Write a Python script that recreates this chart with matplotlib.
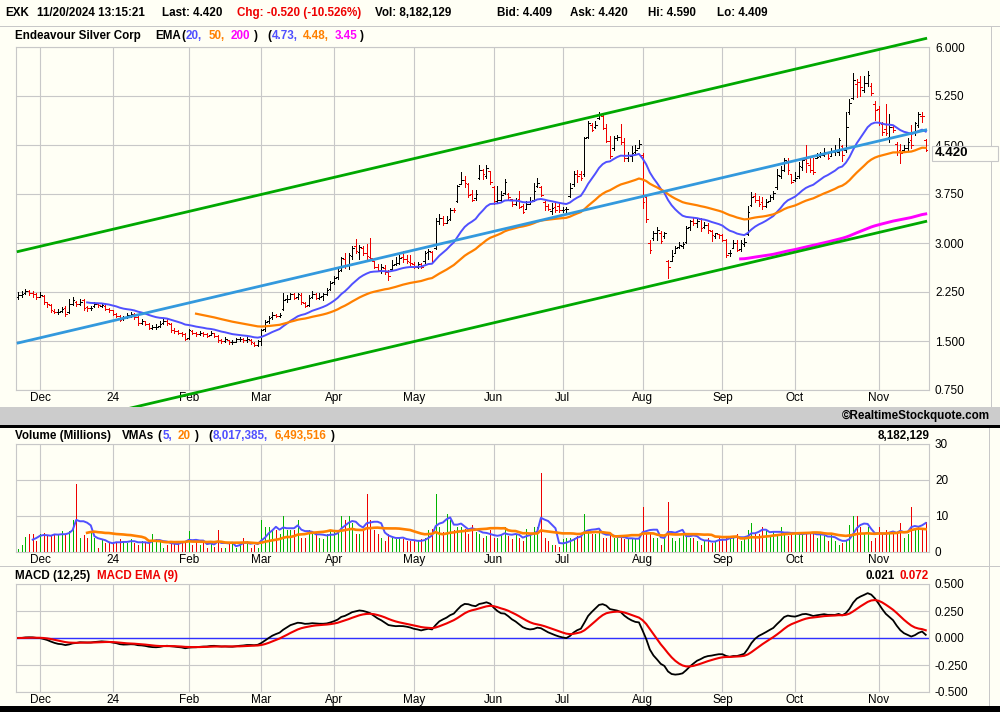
import numpy as np
import pandas as pd
import matplotlib
matplotlib.use("Agg")
import matplotlib.pyplot as plt
from matplotlib.patches import Rectangle
from matplotlib.transforms import Bbox, TransformedBbox

plt.rcParams['font.family'] = ['Liberation Sans', 'DejaVu Sans']

# ------------------------------------------------------------------
# data (EXK daily bars, 2023-11-22 .. 2024-11-20)
# ------------------------------------------------------------------
first_day = "2023-11-22"
last_day = "2024-11-20"
holidays = ["2023-11-23", "2023-12-25", "2024-01-01", "2024-01-15", "2024-02-19",
            "2024-03-29", "2024-05-27", "2024-06-19", "2024-07-04", "2024-09-02"]

closes = [
    2.21, 2.22, 2.27, 2.24, 2.22, 2.17, 2.20, 2.10, 2.06, 1.97, 1.95, 1.95, 1.99, 1.91, 2.06, 2.12, 2.06, 2.10, 2.01, 2.00, 2.01, 2.06, 2.05, 2.05, 1.99, 1.97,
    1.92, 1.89, 1.82, 1.86, 1.90, 1.91, 1.86, 1.77, 1.81, 1.76, 1.70, 1.71, 1.72, 1.76, 1.81, 1.77, 1.67, 1.66, 1.62, 1.61, 1.53,
    1.67, 1.63, 1.60, 1.63, 1.61, 1.58, 1.63, 1.58, 1.51, 1.50, 1.53, 1.48, 1.48, 1.53, 1.53, 1.51, 1.53, 1.48, 1.44, 1.50,
    1.67, 1.79, 1.85, 1.90, 1.88, 1.90, 2.13, 2.14, 2.22, 2.16, 2.22, 2.09, 2.04, 2.16, 2.22, 2.16, 2.18, 2.22, 2.28, 2.39,
    2.47, 2.57, 2.77, 2.67, 2.82, 2.92, 2.87, 2.94, 2.84, 2.80, 2.77, 2.63, 2.59, 2.63, 2.55, 2.50, 2.67, 2.69, 2.77, 2.76, 2.72, 2.69,
    2.63, 2.68, 2.64, 2.85, 2.87, 2.73, 3.33, 3.38, 3.30, 3.35, 3.51, 3.50, 3.87, 3.97, 3.92, 3.74, 3.66, 3.75, 4.12, 4.05, 4.15, 3.94,
    3.64, 3.66, 3.74, 3.94, 3.70, 3.60, 3.66, 3.55, 3.48, 3.59, 3.65, 3.79, 3.92, 3.74, 3.56, 3.52, 3.54, 3.51, 3.50,
    3.51, 3.52, 3.84, 4.05, 4.02, 3.99, 4.61, 4.84, 4.73, 4.81, 4.96, 4.76, 4.56, 4.33, 4.61, 4.62, 4.55, 4.30, 4.35, 4.38, 4.42, 4.52,
    3.62, 3.36, 2.90, 3.15, 3.20, 3.03, 3.15, 2.64, 2.80, 2.92, 2.97, 2.99, 3.23, 3.33, 3.31, 3.33, 3.23, 3.28, 3.20, 3.13, 3.15, 3.13,
    3.05, 2.82, 2.85, 3.00, 2.90, 3.00, 3.02, 3.48, 3.71, 3.66, 3.60, 3.56, 3.63, 3.71, 3.76, 4.04, 4.12, 4.27, 4.12, 3.94,
    3.99, 4.18, 4.27, 4.22, 4.12, 4.09, 4.32, 4.35, 4.40, 4.30, 4.40, 4.42, 4.58, 4.35, 4.78, 5.14, 5.49, 5.47, 5.39, 5.45, 5.57, 5.29, 5.04,
    4.83, 4.70, 4.68, 4.78, 4.73, 4.40, 4.38, 4.46, 4.55, 4.50, 4.83, 4.98, 4.94, 4.42,
]
highs = [
    2.25, 2.26, 2.30, 2.28, 2.26, 2.24, 2.25, 2.20, 2.10, 2.06, 1.99, 1.99, 2.02, 2.03, 2.14, 2.18, 2.11, 2.14, 2.15, 2.04, 2.04, 2.09, 2.08, 2.08, 2.06, 2.01,
    1.98, 1.93, 1.90, 1.89, 1.93, 1.95, 1.93, 1.88, 1.84, 1.81, 1.77, 1.74, 1.76, 1.80, 1.85, 1.83, 1.78, 1.70, 1.67, 1.64, 1.62,
    1.69, 1.67, 1.64, 1.65, 1.64, 1.62, 1.65, 1.62, 1.59, 1.53, 1.56, 1.52, 1.51, 1.55, 1.56, 1.54, 1.56, 1.53, 1.49, 1.52,
    1.68, 1.82, 1.88, 1.94, 1.92, 1.93, 2.23, 2.21, 2.24, 2.24, 2.24, 2.23, 2.10, 2.20, 2.26, 2.24, 2.24, 2.24, 2.31, 2.42,
    2.50, 2.62, 2.79, 2.85, 2.85, 2.95, 3.06, 2.97, 2.95, 2.98, 3.08, 2.73, 2.68, 2.68, 2.66, 2.58, 2.74, 2.79, 2.81, 2.88, 2.81, 2.81,
    2.71, 2.71, 2.70, 2.88, 2.91, 2.88, 3.38, 3.45, 3.41, 3.42, 3.53, 3.53, 3.89, 4.08, 4.03, 3.92, 3.81, 3.81, 4.19, 4.14, 4.19, 4.10,
    3.88, 3.88, 3.80, 3.98, 3.76, 3.67, 3.69, 3.79, 3.60, 3.65, 3.70, 3.92, 4.00, 3.87, 3.65, 3.60, 3.61, 3.62, 3.61,
    3.55, 3.55, 3.92, 4.10, 4.12, 4.10, 4.63, 4.86, 4.84, 4.87, 5.00, 4.97, 4.82, 4.64, 4.64, 4.66, 4.82, 4.60, 4.40, 4.48, 4.50, 4.58,
    4.37, 3.72, 3.05, 3.18, 3.25, 3.18, 3.17, 2.74, 2.90, 2.95, 3.01, 3.01, 3.26, 3.35, 3.38, 3.37, 3.38, 3.32, 3.30, 3.20, 3.16, 3.14,
    3.14, 3.06, 2.89, 3.05, 3.04, 3.05, 3.07, 3.57, 3.78, 3.76, 3.72, 3.70, 3.67, 3.74, 3.80, 4.13, 4.18, 4.30, 4.30, 4.06,
    4.09, 4.24, 4.30, 4.50, 4.30, 4.30, 4.37, 4.40, 4.45, 4.40, 4.45, 4.50, 4.60, 4.50, 5.00, 5.20, 5.60, 5.51, 5.55, 5.55, 5.64, 5.45, 5.17,
    5.10, 4.85, 5.12, 4.98, 4.80, 4.55, 4.52, 4.50, 4.60, 4.81, 4.85, 5.01, 5.00, 4.59,
]
lows = [
    2.14, 2.18, 2.22, 2.21, 2.18, 2.14, 2.17, 2.06, 2.02, 1.95, 1.93, 1.92, 1.94, 1.89, 1.93, 2.05, 2.04, 2.05, 1.97, 1.96, 1.98, 2.02, 2.02, 2.02, 1.97, 1.94,
    1.90, 1.86, 1.80, 1.82, 1.85, 1.87, 1.83, 1.75, 1.76, 1.74, 1.68, 1.68, 1.69, 1.72, 1.76, 1.75, 1.64, 1.62, 1.60, 1.58, 1.51,
    1.53, 1.61, 1.58, 1.59, 1.58, 1.56, 1.59, 1.56, 1.49, 1.47, 1.49, 1.46, 1.46, 1.48, 1.50, 1.49, 1.49, 1.46, 1.42, 1.43,
    1.44, 1.66, 1.78, 1.83, 1.86, 1.86, 1.98, 2.10, 2.14, 2.14, 2.15, 2.07, 2.02, 2.04, 2.16, 2.14, 2.14, 2.13, 2.20, 2.28,
    2.38, 2.45, 2.57, 2.62, 2.60, 2.75, 2.84, 2.75, 2.82, 2.74, 2.74, 2.62, 2.57, 2.54, 2.53, 2.44, 2.59, 2.67, 2.68, 2.71, 2.70, 2.64,
    2.62, 2.62, 2.62, 2.70, 2.76, 2.71, 2.91, 3.29, 3.28, 3.30, 3.35, 3.48, 3.63, 3.90, 3.86, 3.70, 3.64, 3.66, 3.98, 3.98, 3.99, 3.91,
    3.60, 3.63, 3.62, 3.75, 3.68, 3.56, 3.58, 3.53, 3.46, 3.52, 3.60, 3.65, 3.85, 3.72, 3.50, 3.50, 3.45, 3.48, 3.48,
    3.47, 3.48, 3.70, 3.88, 3.93, 3.97, 4.03, 4.61, 4.71, 4.76, 4.90, 4.74, 4.54, 4.30, 4.42, 4.57, 4.52, 4.25, 4.25, 4.25, 4.38, 4.45,
    3.54, 3.32, 2.85, 3.05, 3.05, 3.00, 3.08, 2.46, 2.72, 2.85, 2.92, 2.93, 3.00, 3.20, 3.27, 3.25, 3.18, 3.23, 3.15, 3.03, 3.08, 3.07,
    3.03, 2.79, 2.80, 2.92, 2.88, 2.88, 2.95, 3.12, 3.57, 3.62, 3.57, 3.52, 3.55, 3.64, 3.68, 3.83, 4.00, 4.10, 4.05, 3.92,
    3.95, 4.00, 4.12, 4.09, 4.08, 4.05, 4.30, 4.32, 4.33, 4.28, 4.34, 4.34, 4.34, 4.26, 4.40, 4.98, 5.20, 5.24, 5.25, 5.31, 5.41, 5.27, 4.88,
    4.80, 4.66, 4.65, 4.55, 4.70, 4.35, 4.22, 4.40, 4.43, 4.46, 4.65, 4.78, 4.85, 4.41,
]
opens = [
    2.18, 2.21, 2.23, 2.27, 2.24, 2.22, 2.18, 2.19, 2.09, 2.05, 1.96, 1.95, 1.96, 2.00, 1.94, 2.07, 2.10, 2.07, 2.12, 2.02, 2.00, 2.03, 2.06, 2.04, 2.04, 1.99,
    1.97, 1.91, 1.88, 1.83, 1.87, 1.90, 1.91, 1.86, 1.78, 1.80, 1.76, 1.70, 1.71, 1.73, 1.77, 1.81, 1.76, 1.67, 1.65, 1.62, 1.60,
    1.54, 1.66, 1.62, 1.60, 1.63, 1.60, 1.59, 1.62, 1.57, 1.51, 1.50, 1.52, 1.48, 1.49, 1.53, 1.53, 1.51, 1.52, 1.47, 1.44,
    1.50, 1.68, 1.80, 1.86, 1.90, 1.88, 1.99, 2.15, 2.15, 2.22, 2.17, 2.20, 2.08, 2.05, 2.17, 2.22, 2.16, 2.19, 2.22, 2.29,
    2.40, 2.48, 2.58, 2.76, 2.66, 2.80, 2.95, 2.86, 2.93, 2.85, 2.79, 2.72, 2.64, 2.58, 2.62, 2.55, 2.60, 2.68, 2.70, 2.78, 2.75, 2.71,
    2.68, 2.64, 2.68, 2.72, 2.86, 2.86, 2.92, 3.34, 3.38, 3.31, 3.36, 3.51, 3.64, 3.91, 3.97, 3.90, 3.75, 3.69, 4.00, 4.12, 4.02, 4.10,
    3.85, 3.65, 3.66, 3.77, 3.75, 3.67, 3.60, 3.68, 3.56, 3.52, 3.60, 3.66, 3.88, 3.85, 3.62, 3.57, 3.49, 3.55, 3.56,
    3.50, 3.52, 3.72, 3.90, 4.05, 4.05, 4.05, 4.63, 4.80, 4.77, 4.92, 4.95, 4.76, 4.56, 4.45, 4.60, 4.62, 4.55, 4.30, 4.33, 4.40, 4.46,
    4.35, 3.70, 3.00, 3.08, 3.15, 3.15, 3.10, 2.72, 2.72, 2.85, 2.94, 2.96, 3.01, 3.24, 3.34, 3.30, 3.36, 3.25, 3.28, 3.19, 3.10, 3.14,
    3.12, 3.04, 2.84, 2.92, 3.00, 2.91, 2.99, 3.14, 3.58, 3.72, 3.66, 3.62, 3.57, 3.65, 3.71, 3.85, 4.03, 4.12, 4.25, 4.05,
    3.96, 4.02, 4.16, 4.28, 4.20, 4.12, 4.30, 4.33, 4.35, 4.38, 4.33, 4.40, 4.40, 4.48, 4.42, 5.00, 5.22, 5.44, 5.46, 5.34, 5.45, 5.40, 5.13,
    5.05, 4.82, 4.75, 4.62, 4.78, 4.52, 4.42, 4.42, 4.45, 4.57, 4.70, 4.80, 4.95, 4.58,
]
# volume in millions of shares
volumes = [
    0.8, 2.0, 4.2, 5.1, 5.1, 3.0, 5.1, 5.3, 4.8, 4.4, 4.8, 4.8, 5.9, 4.8, 5.9, 9.0, 19.0, 4.0, 4.8, 3.9, 5.3, 3.9, 1.2, 3.5, 2.5, 2.5,
    2.5, 2.5, 3.5, 3.0, 2.5, 3.5, 2.5, 2.0, 3.0, 2.5, 2.5, 5.0, 3.5, 3.0, 1.0, 2.0, 3.0, 2.5, 2.5, 3.0, 3.0,
    5.9, 2.0, 3.0, 2.0, 3.0, 1.0, 3.0, 1.5, 6.0, 1.0, 1.0, 2.5, 2.5, 1.0, 2.5, 4.0, 3.0, 1.0, 2.0, 1.0,
    9.0, 7.0, 7.0, 6.0, 6.0, 5.0, 10.0, 6.0, 6.0, 6.0, 9.0, 4.0, 4.0, 6.0, 5.0, 5.5, 4.0, 3.5, 5.0, 6.0,
    5.5, 6.0, 10.0, 9.0, 10.0, 8.0, 5.0, 5.0, 6.0, 16.0, 9.0, 6.0, 5.0, 4.0, 3.0, 5.0, 4.0, 3.5, 4.0, 3.5, 3.0, 3.0,
    3.0, 3.0, 3.5, 4.0, 6.0, 6.5, 16.0, 7.0, 5.5, 10.5, 9.0, 6.0, 7.0, 7.0, 6.5, 5.0, 7.5, 5.5, 5.0, 4.0, 4.5, 6.0,
    4.0, 4.0, 5.0, 7.0, 4.5, 3.5, 5.0, 4.0, 3.0, 6.5, 5.0, 7.0, 7.0, 22.0, 4.0, 3.0, 2.0, 2.0, 1.5,
    3.5, 4.0, 4.0, 4.0, 4.5, 5.0, 10.5, 6.0, 5.0, 5.0, 6.0, 4.0, 4.0, 5.0, 4.0, 4.0, 4.0, 3.5, 3.5, 4.0, 3.5, 4.0,
    12.5, 5.0, 5.5, 4.0, 4.0, 2.0, 4.0, 13.8, 4.0, 3.0, 4.0, 6.0, 5.0, 4.0, 4.0, 3.0, 2.0, 3.0, 4.0, 2.5, 3.0, 4.0,
    3.5, 4.0, 4.5, 4.0, 5.0, 3.0, 4.0, 6.0, 8.0, 5.0, 5.0, 7.0, 6.0, 4.5, 5.5, 5.0, 7.0, 5.0, 4.5, 5.0,
    5.0, 5.5, 5.0, 5.0, 5.5, 5.0, 4.0, 5.0, 4.5, 3.0, 5.0, 3.0, 2.0, 2.5, 3.0, 7.5, 10.0, 10.0, 7.0, 5.0, 7.0, 3.0, 4.0,
    7.0, 5.0, 6.0, 5.0, 5.5, 5.0, 8.0, 4.0, 5.0, 12.6, 6.5, 7.0, 6.0, 8.2,
]

# regression channel: centre line at first and last bar, half width
trend_start = 1.47
trend_end = 4.73
channel_half = 1.40

# ------------------------------------------------------------------
# helpers
# ------------------------------------------------------------------
def ema(vals, n):
    out = np.full(len(vals), np.nan)
    out[n - 1] = np.mean(vals[:n])
    k = 2.0 / (n + 1)
    for i in range(n, len(vals)):
        out[i] = vals[i] * k + out[i - 1] * (1 - k)
    return out

def fx(px):
    return px / 1000.0

def fy(py):
    return 1 - py / 712.0

days = pd.bdate_range(first_day, last_day)
days = days[~days.isin(pd.to_datetime(holidays))]
n = len(closes)
x = np.arange(n)
c = np.array(closes)

ema20 = ema(c, 20)
ema50 = ema(c, 50)
ema200 = ema(c, 200)
vma5 = pd.Series(volumes).rolling(5).mean()
vma20 = pd.Series(volumes).rolling(20).mean()
macd = pd.Series(c).ewm(span=12, adjust=False).mean() - pd.Series(c).ewm(span=25, adjust=False).mean()
signal = macd.ewm(span=9, adjust=False).mean()

month_idx = [i for i in range(1, n) if days[i].month != days[i - 1].month]
month_lbl = [days[i].strftime("%y") if days[i].month == 1 else days[i].strftime("%b") for i in month_idx]

cream = "#fffff5"
gridc = "#c8c8c8"
blue = "#5050ff"
orange = "#ff8000"
magenta = "#ff00ff"
red = "#ee0000"
vgreen = "#00b400"

up = [True] + [closes[i] >= closes[i - 1] for i in range(1, n)]
bar_col = ["black" if u else red for u in up]
vol_col = [vgreen if u else red for u in up]

# ------------------------------------------------------------------
# figure & panels
# ------------------------------------------------------------------
fig = plt.figure(figsize=(10, 7.12), dpi=100, facecolor=cream)

ax_p = fig.add_axes([fx(16), fy(390), fx(913), 343 / 712])
ax_v = fig.add_axes([fx(16), fy(552), fx(913), 108 / 712])
ax_m = fig.add_axes([fx(16), fy(692), fx(913), 108 / 712])

for ax in (ax_p, ax_v, ax_m):
    ax.set_facecolor(cream)
    ax.set_xlim(-0.6, 250.9)
    ax.set_xticks(month_idx)
    ax.set_xticklabels(month_lbl)
    ax.yaxis.tick_right()
    ax.tick_params(axis="x", length=0, pad=1.5, labelsize=8.5)
    ax.tick_params(axis="y", length=0, pad=4.3, labelsize=8.5)
    ax.grid(True, color=gridc, lw=0.8)
    ax.set_axisbelow(True)
    for s in ax.spines.values():
        s.set_color(gridc)
        s.set_linewidth(0.8)

# price panel
price_ticks = [0.75, 1.5, 2.25, 3.0, 3.75, 4.5, 5.25, 6.0]
ax_p.set_ylim(0.75, 6.0)
ax_p.set_yticks(price_ticks)
ax_p.set_yticklabels([f"{t:.3f}" for t in price_ticks])

bar_lw = 0.5
ax_p.vlines(x, lows, highs, colors=bar_col, lw=bar_lw, antialiased=False, zorder=2)
ax_p.hlines(opens, x - 0.45, x, colors=bar_col, lw=bar_lw, antialiased=False, zorder=2)
ax_p.hlines(closes, x, x + 0.45, colors=bar_col, lw=bar_lw, antialiased=False, zorder=2)

ax_p.plot(x, ema20, color=blue, lw=1.4, zorder=3)
ax_p.plot(x, ema50, color=orange, lw=1.6, zorder=3)
ax_p.plot(x, ema200, color=magenta, lw=2.1, zorder=3)

panel_clip = TransformedBbox(Bbox.from_extents(0, fy(407), 1, fy(27)), fig.transFigure)
ends = [0, n - 1]
for off, col in ((0, "#3399dd"), (channel_half, "#00a800"), (-channel_half, "#00a800")):
    ln, = ax_p.plot(ends, [trend_start + off, trend_end + off], color=col, lw=2.0, zorder=3)
    ln.set_clip_box(panel_clip)

# volume panel
ax_v.set_ylim(0, 30)
ax_v.set_yticks([0, 10, 20, 30])
ax_v.set_yticklabels(["0", "10", "20", "30"])
ax_v.vlines(x, 0, volumes, colors=vol_col, lw=bar_lw, antialiased=False, zorder=2)
ax_v.plot(x, vma5, color=blue, lw=1.4, zorder=3)
ax_v.plot(x, vma20, color=orange, lw=1.9, zorder=3)

# macd panel
macd_ticks = [-0.5, -0.25, 0.0, 0.25, 0.5]
ax_m.set_ylim(-0.5, 0.5)
ax_m.set_yticks(macd_ticks)
ax_m.set_yticklabels([f"{t:.3f}" for t in macd_ticks])
ax_m.axhline(0, color="#3030ff", lw=1.0, zorder=2)
ax_m.plot(x, macd, color="black", lw=1.3, zorder=3)
ax_m.plot(x, signal, color=red, lw=1.5, zorder=3)

for ax in (ax_p, ax_v, ax_m):
    for lbl in ax.get_yticklabels():
        lbl.set_horizontalalignment("left")

# ------------------------------------------------------------------
# frame pieces
# ------------------------------------------------------------------
def band(y0, y1, color, x0=0, x1=1000):
    fig.add_artist(Rectangle((fx(x0), fy(y1)), fx(x1 - x0), (y1 - y0) / 712,
                             transform=fig.transFigure, facecolor=color, edgecolor="none", zorder=1))

band(407, 425, "#cccccc")
band(425, 428, "black")
band(706, 712, "black")
band(26, 27, gridc)
band(566, 567, gridc)
band(27, 407, gridc, 991, 992)
band(428, 706, gridc, 989, 990)

# last price box
fig.add_artist(Rectangle((fx(932), fy(161)), fx(66), 15 / 712, transform=fig.transFigure,
                         facecolor=cream, edgecolor=gridc, lw=0.8, zorder=2))
fig.text(fx(935), fy(153.5), "4.420", fontsize=9.5, fontweight="bold", va="center")

# ------------------------------------------------------------------
# texts
# ------------------------------------------------------------------
def put(px, py, s, color="black", ha="left", size=8.4, weight="bold"):
    fig.text(fx(px), fy(py), s, color=color, ha=ha, va="center", fontsize=size, fontweight=weight)

put(5, 13, "EXK")
put(37, 13, "11/20/2024 13:15:21")
put(162, 13, "Last: 4.420")
put(237, 13, "Chg: -0.520 (-10.526%)", color=red)
put(375, 13, "Vol: 8,182,129")
put(497, 13, "Bid: 4.409")
put(570, 13, "Ask: 4.420")
put(648, 13, "Hi: 4.590")
put(717, 13, "Lo: 4.409")

put(15, 36, "Endeavour Silver Corp")
put(155, 36, "EMA")
put(181, 36, "(")
put(186, 36, "20,", color=blue)
put(209, 36, "50,", color=orange)
put(231, 36, "200", color=magenta)
put(254, 36, ")")
put(267, 36, "(")
put(272, 36, "4.73,", color=blue)
put(303, 36, "4.48,", color=orange)
put(335, 36, "3.45", color=magenta)
put(360, 36, ")")

put(990, 416, "\u00a9RealtimeStockquote.com", ha="right")

put(15, 436, "Volume (Millions)")
put(122, 436, "VMAs")
put(157, 436, "(")
put(163, 436, "5,", color=blue)
put(178, 436, "20", color=orange)
put(195, 436, ")")
put(208, 436, "(")
put(213, 436, "8,017,385,", color=blue)
put(275, 436, "6,493,516", color=orange)
put(331, 436, ")")
put(929, 436, "8,182,129", ha="right")

put(15, 576, "MACD (12,25)")
put(97, 576, "MACD EMA (9)", color=red)
put(895, 576, "0.021", ha="right")
put(929, 576, "0.072", color=red, ha="right")

fig.savefig("out.png", dpi=100, facecolor=cream)
